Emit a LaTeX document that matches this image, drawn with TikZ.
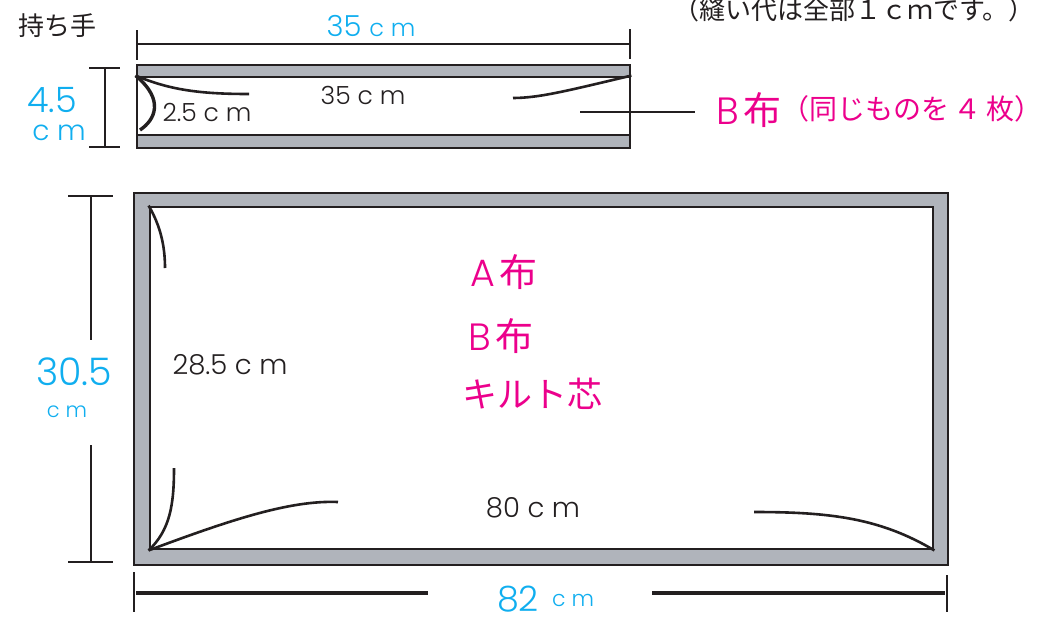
\documentclass[tikz,border=0pt]{standalone}
\usepackage{fontspec}
\setmainfont{Noto Sans CJK JP}
\newfontfamily\latinfont{Poppins Light}
\usetikzlibrary{positioning,calc}
\definecolor{skyblue}{HTML}{10AEEF}
\definecolor{hotpink}{HTML}{EC008C}
\definecolor{inkline}{HTML}{231F20}
\definecolor{seamgray}{HTML}{B0B4BB}
\tikzset{
    seam/.style={draw=inkline, fill=seamgray, line width=2.8pt, inner sep=0pt},
    cloth/.style={draw=inkline, fill=white, line width=2.8pt, inner sep=0pt},
    dimline/.style={draw=inkline, line width=2.8pt},
    curveline/.style={draw=inkline, line width=2.6pt},
    size/.style={font=\latinfont\fontsize{25}{25}\selectfont, text=inkline, inner sep=0pt},
    sizebig/.style={font=\latinfont\fontsize{27.5}{27.5}\selectfont, text=inkline, inner sep=0pt},
    dimtext/.style={font=\latinfont\fontsize{28}{28}\selectfont, text=skyblue, inner sep=0pt},
    dimbig/.style={font=\latinfont\fontsize{35}{35}\selectfont, text=skyblue, inner sep=0pt},
    fabric/.style={font=\fontsize{38}{38}\selectfont, text=hotpink, inner sep=0pt},
    note/.style={font=\fontsize{26}{26}\selectfont, text=inkline, inner sep=0pt},
}
\begin{document}
\begin{tikzpicture}[x=1pt,y=-1pt]
    \useasboundingbox (0,0) rectangle (1043,616);

    % Handle piece
    \node[seam, minimum width=493pt, minimum height=83pt] (handle) at (383.5,106.5) {};
    \node[cloth, minimum width=493pt, minimum height=58pt] (handleIn) at (383.5,106) {};
    \coordinate (handleA) at (249,94);
    \coordinate (handleB) at (140,130);
    \coordinate (handleC) at (513,98);
    \draw[curveline] (handleIn.north west) .. controls (170,90) and (200,94) .. (handleA);
    \draw[curveline, line width=3.4pt] (handleIn.north west) .. controls (165,100) and (155,120) .. (handleB);
    \draw[curveline] (handleIn.north east) .. controls (570,90) and (540,98) .. (handleC);

    % Bag body
    \node[seam, minimum width=814pt, minimum height=372pt] (body) at (541,379) {};
    \node[cloth, minimum width=783pt, minimum height=342pt] (bodyIn) at (541.5,378) {};
    \coordinate (bodyA) at (165,268);
    \coordinate (bodyB) at (174,468);
    \coordinate (bodyC) at (338,502);
    \coordinate (bodyD) at (754,512);
    \draw[curveline] (bodyIn.north west) .. controls (160,225) and (165,245) .. (bodyA);
    \draw[curveline] (bodyIn.south west) .. controls (170,530) and (174,505) .. (bodyB);
    \draw[curveline] (bodyIn.south west) .. controls (230,520) and (290,500) .. (bodyC);
    \draw[curveline] (bodyIn.south east) .. controls (880,518) and (830,512) .. (bodyD);

    % Handle dimensions
    \coordinate (topL) at (137,44);
    \coordinate (topR) at (630,44);
    \draw[dimline] (topL) -- (topR);
    \draw[dimline] ($(topL)+(0,-14)$) -- ($(topL)+(0,16)$);
    \draw[dimline] ($(topR)+(0,-15)$) -- ($(topR)+(0,15)$);
    \coordinate (sideT) at (105,68);
    \coordinate (sideB) at (105,147);
    \draw[dimline] (sideT) -- (sideB);
    \draw[dimline] ($(sideT)+(-16,0)$) -- ($(sideT)+(15,0)$);
    \draw[dimline] ($(sideB)+(-16,0)$) -- ($(sideB)+(15,0)$);

    % Bag dimensions
    \coordinate (bodyT) at (91,196);
    \coordinate (bodyTe) at (91,340);
    \coordinate (bodyBs) at (91,445);
    \coordinate (bodyBe) at (91,562);
    \draw[dimline] (bodyT) -- (bodyTe);
    \draw[dimline] (bodyBs) -- (bodyBe);
    \draw[dimline] ($(bodyT)+(-23,0)$) -- ($(bodyT)+(22,0)$);
    \draw[dimline] ($(bodyBe)+(-23,0)$) -- ($(bodyBe)+(22,0)$);

    \coordinate (wideL) at (136,593);
    \coordinate (wideLe) at (428,593);
    \coordinate (wideRs) at (652,593);
    \coordinate (wideR) at (945,593);
    \draw[dimline, line width=3.8pt] (wideL) -- (wideLe);
    \draw[dimline, line width=3.8pt] (wideRs) -- (wideR);
    \draw[dimline] (134,572) -- (134,612);
    \draw[dimline] (947,575) -- (947,612);

    % Labels
    \node[note] (grip) at (57,26) {持ち手};
    \node[note] (hint) at (854,10) {（縫い代は全部１ｃｍです。）};
    \node[dimtext, font=\latinfont\fontsize{29}{29}\selectfont] (w35) at (371,26) {35 \fontsize{24}{24}\selectfont c m};
    \node[dimbig] (h45) at (52,100) {4.5};
    \node[dimtext] (h45cm) at (59,133) {c m};
    \node[size] (in35) at (363,95) {35 c m};
    \node[size] (in25) at (207,112) {2.5 c m};
    \node[sizebig] (in285) at (230,365) {28.5 c m};
    \node[sizebig] (in80) at (533,508) {80 c m};
    \node[dimbig, font=\latinfont\fontsize{38}{38}\selectfont] (h30) at (74,372) {30.5};
    \node[dimtext, font=\latinfont\fontsize{21}{21}\selectfont] (h30cm) at (67,412) {c m};
    \node[dimbig] (w82) at (518,599) {82};
    \node[dimtext, font=\latinfont\fontsize{22}{22}\selectfont] (w82cm) at (573,600) {c m};

    \node[fabric, anchor=west] (partB) at (716,110) {\latinfont B\kern5pt\rmfamily 布};
    \node[fabric, font=\fontsize{28}{28}\selectfont, anchor=west] (partNote) at (781,109) {（同じものを\,４\,枚）\kern-12pt};
    \coordinate (leader) at (580,112);
    \draw[dimline] (leader) -- ($(partB.west)+(-21,2)$);

    \node[fabric] (clothA) at (504,272) {\latinfont A\kern5pt\rmfamily 布};
    \node[fabric] (clothB) at (501,336) {\latinfont B\kern5pt\rmfamily 布};
    \node[fabric, font=\fontsize{35}{35}\selectfont] (clothC) at (532,394) {キルト芯};
\end{tikzpicture}
\end{document}
